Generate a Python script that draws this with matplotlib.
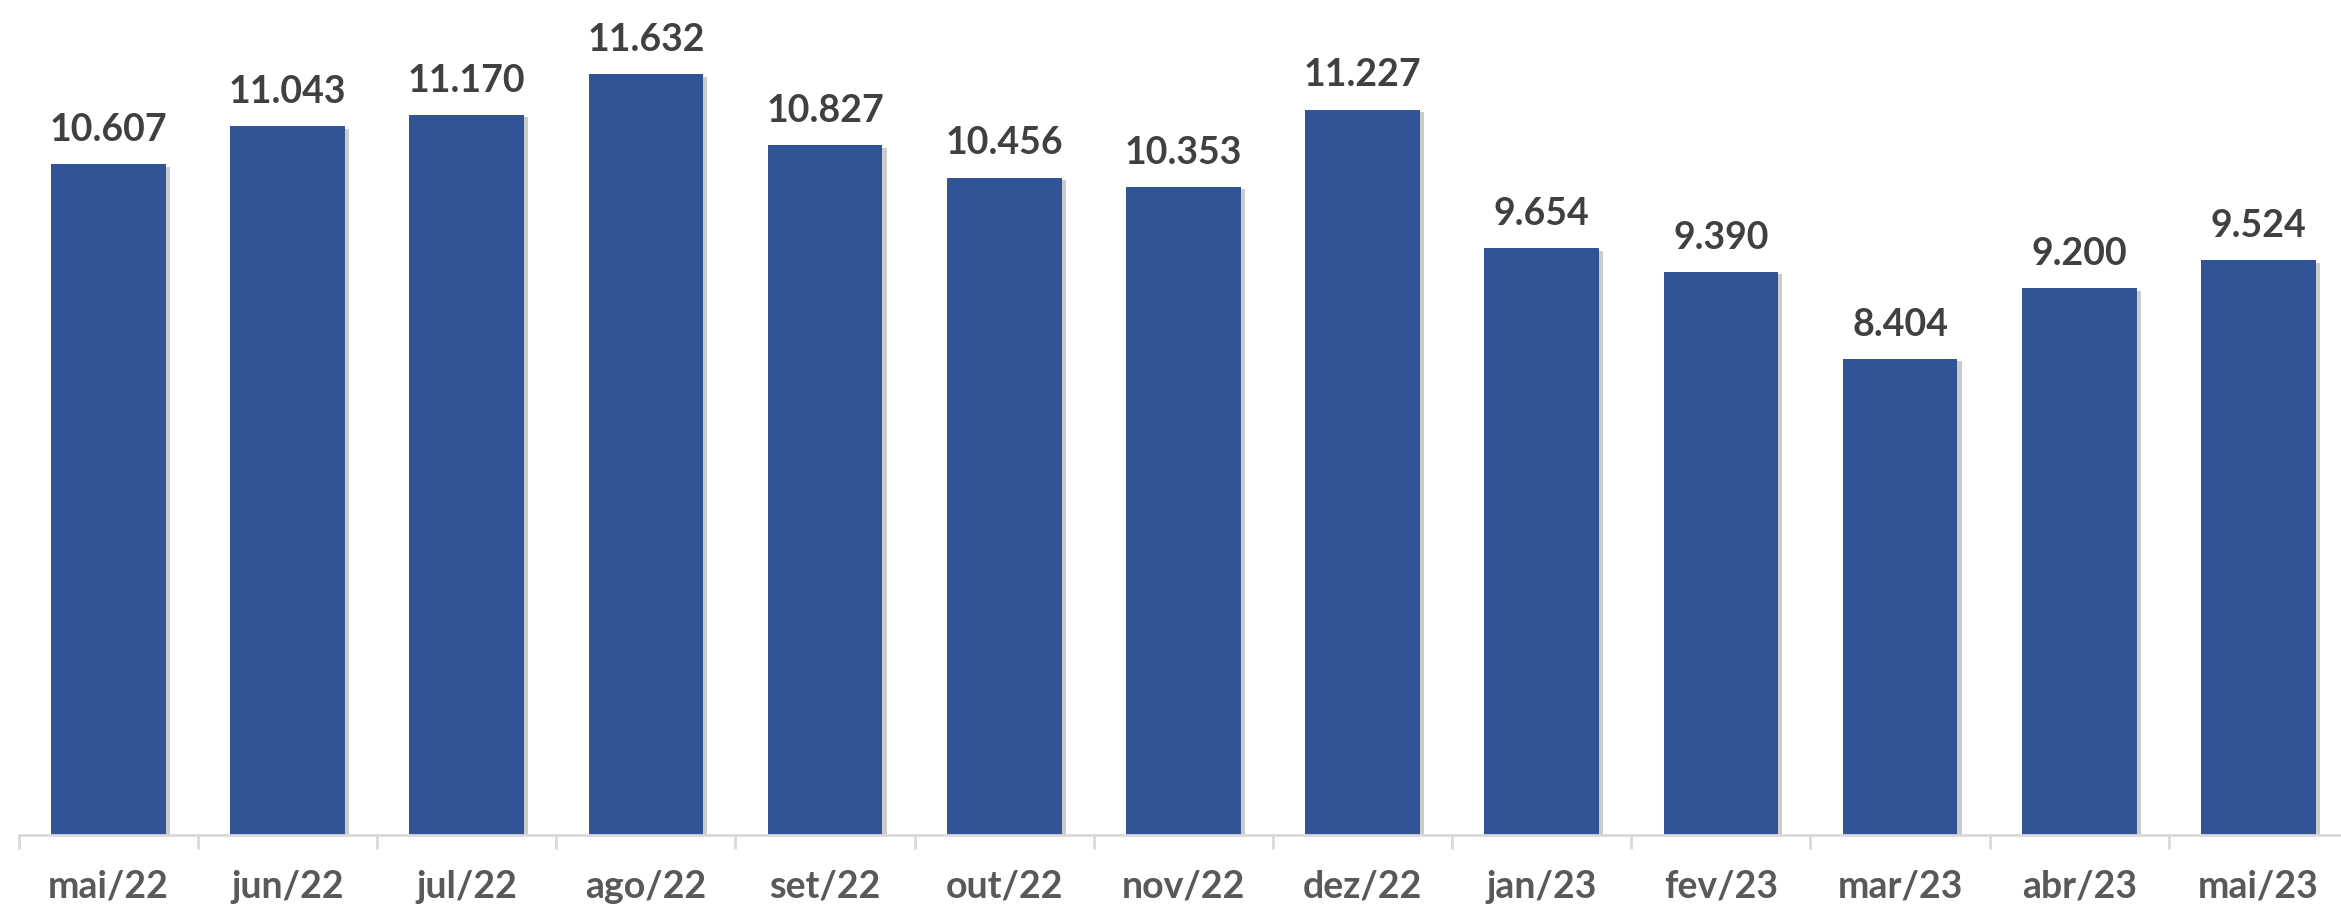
import numpy as np
import matplotlib.pyplot as plt
import matplotlib.patheffects as pe
from matplotlib.ticker import FixedLocator

# data
meses = ['mai/22', 'jun/22', 'jul/22', 'ago/22', 'set/22', 'out/22', 'nov/22',
         'dez/22', 'jan/23', 'fev/23', 'mar/23', 'abr/23', 'mai/23']
valores = [10.607, 11.043, 11.170, 11.632, 10.827, 10.456, 10.353,
           11.227, 9.654, 9.390, 8.404, 9.200, 9.524]
rotulos = ['10.607', '11.043', '11.170', '11.632', '10.827', '10.456', '10.353',
           '11.227', '9.654', '9.390', '8.404', '9.200', '9.524']

plt.rcParams['font.family'] = ['Lato', 'DejaVu Sans']

fig = plt.figure(figsize=(23.41, 9.12), dpi=100)
ax = fig.add_axes([0.008, 0.083, 0.995, 0.917])

x = np.arange(len(meses))
bars = ax.bar(x, valores, width=0.64, color='#2F5597', zorder=2)
for b in bars:
    b.set_path_effects([pe.SimplePatchShadow(offset=(3, -2), shadow_rgbFace='#999999', alpha=0.5),
                        pe.Normal()])

for xi, v, t in zip(x, valores, rotulos):
    ax.annotate(t, (xi, v), xytext=(0, 13), textcoords='offset points',
                ha='center', va='bottom', fontsize=27, fontweight='bold', color='#404040')

ax.set_xlim(-0.5, len(meses) - 0.5)
ax.set_ylim(3.0, 12.48)

ax.set_xticks(x)
ax.set_xticklabels(meses, fontsize=27, fontweight='bold', color='#595959')
ax.tick_params(axis='x', which='major', length=0, pad=24)
ax.xaxis.set_minor_locator(FixedLocator(np.arange(-0.5, len(meses), 1.0)))
ax.tick_params(axis='x', which='minor', length=10, width=2, color='#D9D9D9')
ax.set_yticks([])

for s in ['top', 'right', 'left']:
    ax.spines[s].set_visible(False)
ax.spines['bottom'].set_color('#D9D9D9')
ax.spines['bottom'].set_linewidth(2)

fig.savefig('out.png', dpi=100)
